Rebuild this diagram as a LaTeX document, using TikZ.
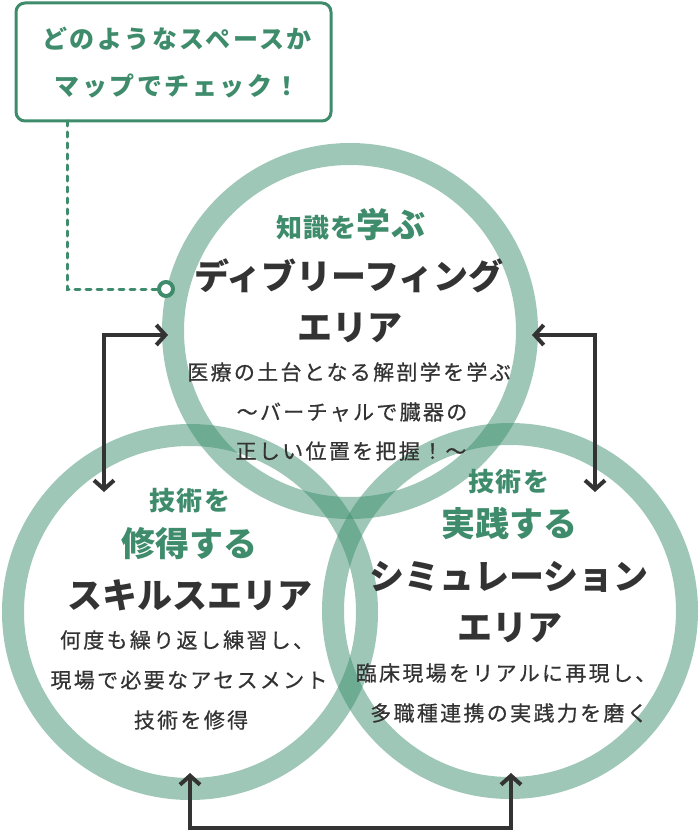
\documentclass[tikz,border=0pt]{standalone}
\usepackage{fontspec}
\setmainfont{Noto Sans CJK JP}
\newfontfamily\boxfont{Noto Sans CJK JP}[LetterSpace=10]
\newfontfamily\headfont{Noto Sans CJK JP}
\newfontfamily\greenfont{Noto Sans CJK JP}[LetterSpace=4]
\newfontfamily\bodyfont{Noto Sans CJK JP}[LetterSpace=11,FakeBold=0.6]
\usetikzlibrary{arrows.meta}
\definecolor{mygreen}{HTML}{3E8C6C}
\definecolor{ringgreen}{HTML}{3F8F70}
\definecolor{darktext}{HTML}{333333}
\tikzset{
  ring/.style={circle, draw=ringgreen, draw opacity=0.5, line width=22pt, minimum size=354pt, inner sep=0pt},
  boxtext/.style={text=mygreen, font=\boxfont\bfseries\fontsize{25}{29}\selectfont, inner sep=0pt},
  greensmall/.style={text=mygreen, font=\greenfont\bfseries\fontsize{26}{30}\selectfont, inner sep=0pt},
  greenbig/.style={text=mygreen, font=\headfont\bfseries\fontsize{34}{38}\selectfont, inner sep=0pt},
  headtext/.style={text=darktext, font=\headfont\bfseries\fontsize{35}{39}\selectfont, inner sep=0pt},
  bodytext/.style={text=darktext, font=\bodyfont\fontsize{21}{24}\selectfont, inner sep=0pt},
  conn/.style={draw=darktext, line width=4pt, {Straight Barb[length=9pt,width=20pt]}-{Straight Barb[length=9pt,width=20pt]}},
  dotline/.style={draw=mygreen, line width=3pt, dash pattern=on 5pt off 6pt, line cap=round},
}
\begin{document}
\begin{tikzpicture}[x=1pt,y=-1pt]
\useasboundingbox (0,0) rectangle (700,832);
% rings
\node[ring] (topc) at (350,331) {};
\node[ring] (leftc) at (190,612) {};
\node[ring] (rightc) at (510,611) {};
% callout box
\node[draw=mygreen, line width=3pt, rounded corners=9pt, minimum width=315pt, minimum height=118pt, inner sep=0pt] (callout) at (173.5,62) {};
\node[boxtext] (c1) at (177,39) {どのようなスペースか};
\node[boxtext] (c2) at (177,86) {マップでチェック！};
\coordinate (d1) at (67,121);
\coordinate (d2) at (67,289);
\node[circle, draw=mygreen, fill=white, line width=4pt, minimum size=14pt, inner sep=0pt] (marker) at (166,289) {};
\draw[dotline] (d1) -- (d2) -- (marker.west);
% arrows
\coordinate (aL1) at (104,492);
\coordinate (aL2) at (168,335);
\coordinate (aR1) at (595,492);
\coordinate (aR2) at (532,335);
\coordinate (bL) at (190,773);
\coordinate (bR) at (511,773);
\draw[conn] (aL1) |- (aL2);
\draw[conn] (aR2) -| (aR1);
\draw[conn] (bL) -- (190,828) -| (bR);
% top circle text
\node[inner sep=0pt] (t0) at (351,224) {\greenfont\bfseries\color{mygreen}\fontsize{26}{30}\selectfont 知識を\fontsize{34}{38}\selectfont 学ぶ};
\node[headtext] (t1) at (349,276) {ディブリーフィング};
\node[headtext] (t2) at (350,328) {エリア};
\node[bodytext] (t3) at (349,372) {医療の土台となる解剖学を学ぶ};
\node[bodytext] (t4) at (352,412) {～バーチャルで臓器の};
\node[bodytext] (t5) at (351,451) {正しい位置を把握！～};
% left circle text
\node[greensmall] (l0) at (190,501) {技術を};
\node[greenbig] (l1) at (189,544) {修得する};
\node[headtext] (l2) at (190,595) {スキルスエリア};
\node[bodytext] (l3) at (187,640) {何度も繰り返し練習し、};
\node[bodytext] (l4) at (189,680) {現場で必要なアセスメント};
\node[bodytext] (l5) at (191,720) {技術を修得};
% right circle text
\node[greensmall] (r0) at (509,482) {技術を};
\node[greenbig] (r1) at (509,524) {実践する};
\node[headtext] (r2) at (509,577) {シミュレーション};
\node[headtext] (r3) at (510,628) {エリア};
\node[bodytext] (r4) at (506,673) {臨床現場をリアルに再現し、};
\node[bodytext] (r5) at (509,713) {多職種連携の実践力を磨く};
\end{tikzpicture}
\end{document}
